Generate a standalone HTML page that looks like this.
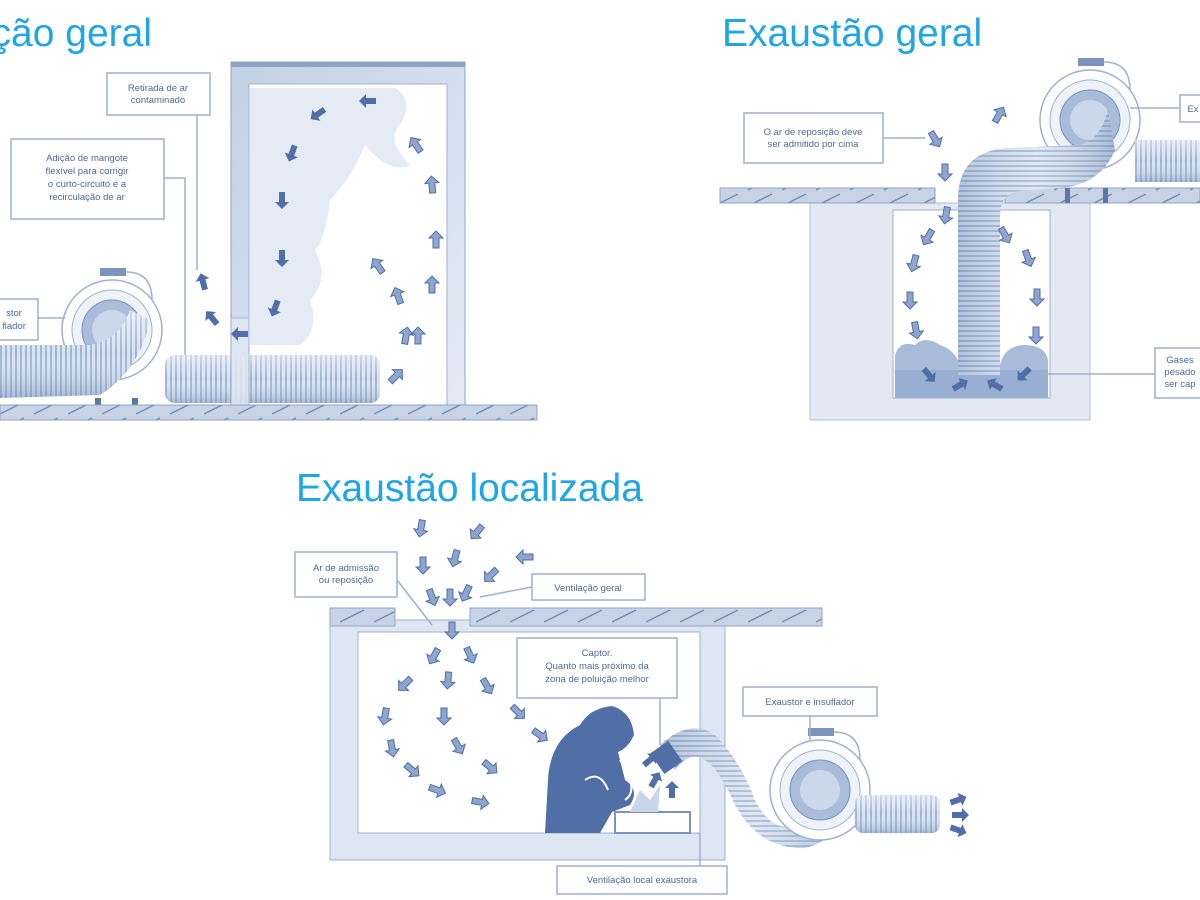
<!DOCTYPE html>
<html><head><meta charset="utf-8"><style>
html,body{margin:0;padding:0;background:#fff;width:1200px;height:900px;overflow:hidden}
svg{display:block}
.t{font-family:"Liberation Sans",sans-serif;fill:#1ea6e6;font-size:39px}
.l{font-family:"Liberation Sans",sans-serif;fill:#4d6a99;font-size:9.5px;text-anchor:middle}
.bx{fill:#fff;stroke:#9fb1cc;stroke-width:1.5}
.ld{stroke:#9fb1cc;stroke-width:1.5;fill:none}
</style></head><body>
<svg width="1200" height="900" viewBox="0 0 1200 900">
<defs>
<pattern id="hatch" width="34" height="16" patternUnits="userSpaceOnUse">
<rect width="34" height="16" fill="#c8d4e6"/><line x1="0" y1="14" x2="24" y2="2" stroke="#6f88b3" stroke-width="1.3"/></pattern>
<pattern id="ridgeV" width="40" height="5" patternUnits="userSpaceOnUse">
<rect width="40" height="5" fill="#d7e2f0"/><rect width="40" height="2" fill="#9fb3d2"/></pattern>
<pattern id="ridgeH" width="5" height="40" patternUnits="userSpaceOnUse">
<rect width="5" height="40" fill="#d7e2f0"/><rect width="2" height="40" fill="#9fb3d2"/></pattern>
<linearGradient id="hg" x1="0" y1="0" x2="0" y2="1"><stop offset="0" stop-color="#ffffff" stop-opacity=".5"/><stop offset=".5" stop-color="#fff" stop-opacity="0"/><stop offset="1" stop-color="#6f88b3" stop-opacity=".45"/></linearGradient>
<linearGradient id="vg" x1="0" y1="0" x2="1" y2="0"><stop offset="0" stop-color="#6f88b3" stop-opacity=".35"/><stop offset=".5" stop-color="#fff" stop-opacity=".2"/><stop offset="1" stop-color="#6f88b3" stop-opacity=".45"/></linearGradient>
<linearGradient id="fg" x1="0" y1="0" x2="1" y2="1"><stop offset="0" stop-color="#c2d0e5"/><stop offset="1" stop-color="#e4ebf5"/></linearGradient>
<path id="ad" d="M-8,-3 L2,-3 L2,-7 L9,0 L2,7 L2,3 L-8,3 Z" fill="#4f6fa6"/>
<path id="al" d="M-8,-3 L2,-3 L2,-7 L9,0 L2,7 L2,3 L-8,3 Z" fill="#8ea6cf" stroke="#4f6fa6" stroke-width="1"/>
<g id="fan">
<circle r="50" fill="#fff" stroke="#9fb1cc" stroke-width="1.5"/>
<circle r="40" fill="#eef3f9" stroke="#9fb1cc" stroke-width="1"/>
<circle r="30" fill="#a9bddb" stroke="#7890bb"/>
<circle r="20" fill="#cbd8eb"/>
<rect x="-12" y="-62" width="26" height="8" fill="#7b93bd"/>
<path d="M14,-58 Q40,-58 40,-30" fill="none" stroke="#9fb1cc" stroke-width="1.5"/>
</g>
</defs>

<!-- ===== Panel 1 ===== -->
<text class="t" x="152" y="46" text-anchor="end">Ventilação geral</text>
<rect x="231" y="62" width="234" height="348" fill="url(#fg)" stroke="#8fa3c5"/>
<rect x="231" y="62" width="234" height="5" fill="#8fa3c5"/>
<rect x="249" y="84" width="198" height="326" fill="#fff" stroke="#9fb1cc"/>
<path d="M250,88 L395,88 Q415,100 400,125 Q385,140 410,165 Q390,175 365,145 Q350,180 330,200 Q325,240 315,250 Q330,280 310,300 Q320,330 300,345 L250,345 Z" fill="#e4ebf5"/>
<rect x="165" y="355" width="215" height="48" rx="10" fill="url(#ridgeH)"/>
<rect x="165" y="355" width="215" height="48" rx="10" fill="url(#hg)"/>
<rect x="231" y="318" width="18" height="92" fill="#dfe7f2" stroke="#9fb1cc" opacity=".85"/>
<use href="#fan" x="112" y="330"/>
<path d="M0,345 L90,345 Q120,340 130,310 L150,320 Q140,370 100,395 L0,398 Z" fill="url(#ridgeH)"/>
<path d="M0,345 L90,345 Q120,340 130,310 L150,320 Q140,370 100,395 L0,398 Z" fill="url(#hg)"/>
<rect x="95" y="398" width="6" height="10" fill="#5c78a8"/><rect x="132" y="398" width="6" height="10" fill="#5c78a8"/>
<rect x="0" y="405" width="537" height="15" fill="url(#hatch)" stroke="#8fa3c5"/>
<rect class="bx" x="107" y="73" width="103" height="42"/>
<text class="l" x="158" y="91">Retirada de ar</text><text class="l" x="158" y="103">contaminado</text>
<line class="ld" x1="197" y1="115" x2="197" y2="270"/>
<rect class="bx" x="11" y="139" width="153" height="80"/>
<text class="l" x="87" y="161">Adição de mangote</text><text class="l" x="87" y="174">flexível para corrigir</text><text class="l" x="87" y="187">o curto-circuito e a</text><text class="l" x="87" y="200">recirculação de ar</text>
<polyline class="ld" points="164,178 185,178 185,355"/>
<rect class="bx" x="-10" y="299" width="48" height="41"/>
<text class="l" x="14" y="316">stor</text><text class="l" x="14" y="329">flador</text>
<line class="ld" x1="38" y1="318" x2="65" y2="318"/>
<use href="#ad" transform="translate(368,101) rotate(180)"/>
<use href="#ad" transform="translate(318,114) rotate(145)"/>
<use href="#ad" transform="translate(292,153) rotate(110)"/>
<use href="#ad" transform="translate(282,200) rotate(90)"/>
<use href="#ad" transform="translate(282,258) rotate(90)"/>
<use href="#ad" transform="translate(275,308) rotate(110)"/>
<use href="#ad" transform="translate(240,334) rotate(180)"/>
<use href="#ad" transform="translate(212,318) rotate(-130)"/>
<use href="#ad" transform="translate(203,282) rotate(-105)"/>
<use href="#al" transform="translate(396,376) rotate(-45)"/>
<use href="#al" transform="translate(406,336) rotate(-80)"/>
<use href="#al" transform="translate(398,296) rotate(-110)"/>
<use href="#al" transform="translate(378,266) rotate(-125)"/>
<use href="#al" transform="translate(418,336) rotate(-90)"/>
<use href="#al" transform="translate(432,285) rotate(-90)"/>
<use href="#al" transform="translate(436,240) rotate(-90)"/>
<use href="#al" transform="translate(432,185) rotate(-95)"/>
<use href="#al" transform="translate(416,145) rotate(-125)"/>

<!-- ===== Panel 2 ===== -->
<text class="t" x="722" y="46">Exaustão geral</text>
<rect x="810" y="203" width="280" height="217" fill="#e3e9f2" stroke="#b3c2d8"/>
<rect x="893" y="210" width="157" height="188" fill="#fff" stroke="#9fb1cc"/>
<path d="M895,398 L895,355 Q900,340 915,345 Q925,335 940,345 Q955,350 960,365 L1000,365 Q1005,345 1025,345 Q1045,345 1048,360 L1048,398 Z" fill="#a8bbd9"/>
<rect x="895" y="370" width="153" height="28" fill="#8ea6cf" opacity=".6"/>
<rect x="720" y="188" width="215" height="15" fill="url(#hatch)" stroke="#8fa3c5"/>
<rect x="1005" y="188" width="195" height="15" fill="url(#hatch)" stroke="#8fa3c5"/>
<use href="#fan" x="1090" y="120"/>
<rect x="1135" y="140" width="70" height="42" fill="url(#ridgeH)"/><rect x="1135" y="140" width="70" height="42" fill="url(#hg)"/>
<path d="M958,375 L958,200 Q958,150 1010,148 L1080,145 Q1100,140 1108,110 L1115,150 Q1100,185 1060,188 L1030,190 Q1000,190 1000,215 L1000,375 Z" fill="url(#ridgeV)"/>
<path d="M958,375 L958,200 Q958,150 1010,148 L1080,145 Q1100,140 1108,110 L1115,150 Q1100,185 1060,188 L1030,190 Q1000,190 1000,215 L1000,375 Z" fill="url(#vg)"/>
<rect x="1065" y="188" width="5" height="15" fill="#5c78a8"/><rect x="1103" y="188" width="5" height="15" fill="#5c78a8"/>
<rect class="bx" x="744" y="113" width="139" height="50"/>
<text class="l" x="813" y="135">O ar de reposição deve</text><text class="l" x="813" y="147">ser admitido por cima</text>
<line class="ld" x1="883" y1="138" x2="925" y2="138"/>
<rect class="bx" x="1180" y="95" width="30" height="27"/><text class="l" x="1193" y="112">Ex</text>
<line class="ld" x1="1130" y1="108" x2="1180" y2="108"/>
<rect class="bx" x="1155" y="348" width="55" height="50"/>
<text class="l" x="1180" y="363">Gases</text><text class="l" x="1180" y="375">pesado</text><text class="l" x="1180" y="387">ser cap</text>
<line class="ld" x1="1040" y1="374" x2="1155" y2="374"/>
<use href="#al" transform="translate(935,139) rotate(60)"/>
<use href="#al" transform="translate(999,115) rotate(-60)"/>
<use href="#al" transform="translate(945,172) rotate(90)"/>
<use href="#al" transform="translate(946,215) rotate(100)"/>
<use href="#al" transform="translate(928,237) rotate(120)"/>
<use href="#al" transform="translate(914,263) rotate(105)"/>
<use href="#al" transform="translate(910,300) rotate(90)"/>
<use href="#al" transform="translate(916,330) rotate(80)"/>
<use href="#al" transform="translate(1005,235) rotate(60)"/>
<use href="#al" transform="translate(1028,258) rotate(70)"/>
<use href="#al" transform="translate(1037,297) rotate(90)"/>
<use href="#al" transform="translate(1036,335) rotate(90)"/>
<use href="#ad" transform="translate(929,375) rotate(50)"/>
<use href="#ad" transform="translate(960,385) rotate(-30)"/>
<use href="#ad" transform="translate(995,385) rotate(210)"/>
<use href="#ad" transform="translate(1024,374) rotate(135)"/>

<!-- ===== Panel 3 ===== -->
<text class="t" x="296" y="501">Exaustão localizada</text>
<rect x="330" y="620" width="395" height="240" fill="#dde6f2" stroke="#9fb1cc"/>
<rect x="358" y="632" width="342" height="201" fill="#fff" stroke="#9fb1cc"/>
<rect x="330" y="608" width="65" height="18" fill="url(#hatch)" stroke="#8fa3c5"/>
<rect x="470" y="608" width="352" height="18" fill="url(#hatch)" stroke="#8fa3c5"/>
<path d="M545,833 L548,780 Q550,740 580,725 Q590,708 612,706 Q632,712 634,735 Q628,748 618,752 L625,780 Q640,790 630,805 L612,812 L600,833 Z" fill="#4f6fa6"/>
<path d="M585,780 Q600,770 608,790" fill="none" stroke="#fff" stroke-width="2"/>
<path d="M620,760 Q640,790 625,800" fill="none" stroke="#fff" stroke-width="2"/>
<rect x="615" y="812" width="75" height="21" fill="#fff" stroke="#7b93bd" stroke-width="2"/>
<path d="M630,812 L640,790 L650,800 L660,785 L658,812 Z" fill="#c8d6ea"/>
<path d="M660,745 Q690,718 715,735 Q740,760 755,800 Q775,840 805,820 Q818,805 820,780 L845,780 Q845,840 805,848 Q760,850 735,805 Q720,770 705,760 Q690,750 675,770 Z" fill="url(#ridgeV)"/>
<path d="M660,745 Q690,718 715,735 Q740,760 755,800 Q775,840 805,820 Q818,805 820,780 L845,780 Q845,840 805,848 Q760,850 735,805 Q720,770 705,760 Q690,750 675,770 Z" fill="url(#vg)"/>
<rect x="655" y="745" width="22" height="25" fill="#4f6fa6" transform="rotate(-35 666 757)"/>
<use href="#fan" x="820" y="790"/>
<rect x="855" y="795" width="85" height="38" rx="8" fill="url(#ridgeH)"/><rect x="855" y="795" width="85" height="38" rx="8" fill="url(#hg)"/>
<use href="#ad" transform="translate(958,800) rotate(-20)"/>
<use href="#ad" transform="translate(960,815)"/>
<use href="#ad" transform="translate(958,830) rotate(20)"/>
<rect class="bx" x="295" y="552" width="102" height="45"/>
<text class="l" x="346" y="571">Ar de admissão</text><text class="l" x="346" y="583">ou reposição</text>
<line class="ld" x1="397" y1="580" x2="432" y2="625"/>
<rect class="bx" x="532" y="574" width="113" height="26"/>
<text class="l" x="588" y="591">Ventilação geral</text>
<line class="ld" x1="532" y1="587" x2="480" y2="597"/>
<rect class="bx" x="517" y="638" width="160" height="60"/>
<text class="l" x="597" y="656">Captor.</text><text class="l" x="597" y="669">Quanto mais próximo da</text><text class="l" x="597" y="682">zona de poluição melhor</text>
<line class="ld" x1="660" y1="698" x2="660" y2="745"/>
<rect class="bx" x="743" y="687" width="134" height="29"/>
<text class="l" x="810" y="705">Exaustor e insuflador</text>
<line class="ld" x1="810" y1="716" x2="810" y2="740"/>
<rect class="bx" x="557" y="866" width="170" height="28"/>
<text class="l" x="642" y="883">Ventilação local exaustora</text>
<line class="ld" x1="700" y1="833" x2="700" y2="866"/>
<use href="#al" transform="translate(421,528) rotate(100)"/>
<use href="#al" transform="translate(477,532) rotate(130)"/>
<use href="#al" transform="translate(423,565) rotate(90)"/>
<use href="#al" transform="translate(455,558) rotate(105)"/>
<use href="#al" transform="translate(525,557) rotate(180)"/>
<use href="#al" transform="translate(491,575) rotate(135)"/>
<use href="#al" transform="translate(432,597) rotate(70)"/>
<use href="#al" transform="translate(450,597) rotate(90)"/>
<use href="#al" transform="translate(466,593) rotate(115)"/>
<use href="#al" transform="translate(452,630) rotate(90)"/>
<use href="#al" transform="translate(434,656) rotate(120)"/>
<use href="#al" transform="translate(448,680) rotate(95)"/>
<use href="#al" transform="translate(470,655) rotate(65)"/>
<use href="#al" transform="translate(487,686) rotate(60)"/>
<use href="#al" transform="translate(405,684) rotate(135)"/>
<use href="#al" transform="translate(385,716) rotate(100)"/>
<use href="#al" transform="translate(444,716) rotate(90)"/>
<use href="#al" transform="translate(518,712) rotate(45)"/>
<use href="#al" transform="translate(540,735) rotate(35)"/>
<use href="#al" transform="translate(392,748) rotate(80)"/>
<use href="#al" transform="translate(412,770) rotate(40)"/>
<use href="#al" transform="translate(437,790) rotate(20)"/>
<use href="#al" transform="translate(458,746) rotate(60)"/>
<use href="#al" transform="translate(490,767) rotate(40)"/>
<use href="#al" transform="translate(480,802) rotate(10)"/>
<use href="#ad" transform="translate(650,760) rotate(-40)"/>
<use href="#ad" transform="translate(655,780) rotate(-60)"/>
<use href="#ad" transform="translate(672,790) rotate(-90)"/>
</svg>
</body></html>
